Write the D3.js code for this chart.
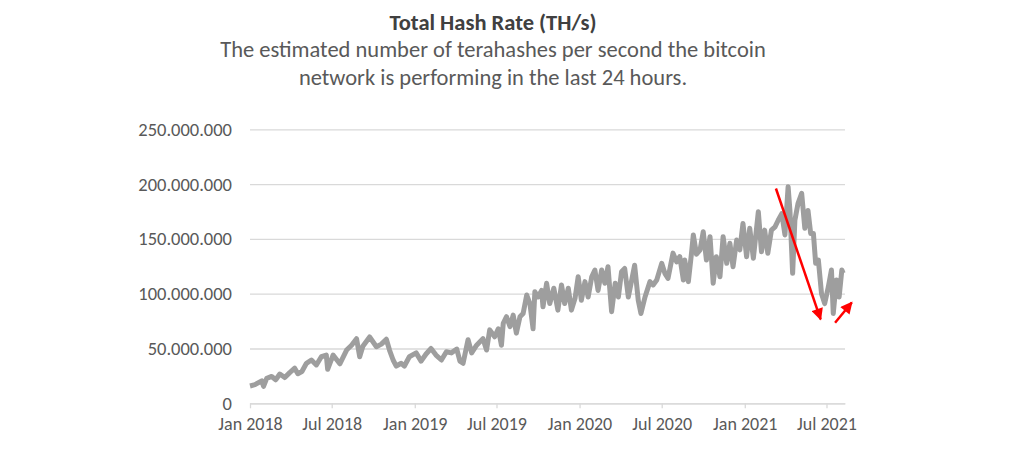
<!DOCTYPE html>
<html>
<head>
<meta charset="utf-8">
<script src="https://cdn.jsdelivr.net/npm/d3@7"></script>
<style>
  body { margin: 0; background: #fff; }
  svg { display: block; font-family: Carlito, Calibri, Lato, sans-serif; }
</style>
</head>
<body>
<div id="container"></div>
<script>
// Total hash rate, in millions of TH/s
const dates = [
    "2018-01-01", "2018-01-12", "2018-01-27", "2018-01-31", "2018-02-07", "2018-02-18", "2018-02-27",
    "2018-03-08", "2018-03-19", "2018-03-30", "2018-04-10", "2018-04-17", "2018-04-26", "2018-05-06",
    "2018-05-17", "2018-05-28", "2018-06-08", "2018-06-19", "2018-06-22", "2018-07-04", "2018-07-19",
    "2018-08-03", "2018-08-14", "2018-08-25", "2018-09-01", "2018-09-08", "2018-09-23", "2018-10-08",
    "2018-10-19", "2018-10-30", "2018-11-06", "2018-11-14", "2018-11-21", "2018-12-02", "2018-12-09",
    "2018-12-20", "2019-01-04", "2019-01-15", "2019-01-26", "2019-02-06", "2019-02-17", "2019-03-01",
    "2019-03-12", "2019-03-23", "2019-04-04", "2019-04-11", "2019-04-18", "2019-04-29", "2019-05-07",
    "2019-05-18", "2019-06-01", "2019-06-09", "2019-06-16", "2019-06-27", "2019-07-05", "2019-07-12",
    "2019-07-16", "2019-07-23", "2019-07-31", "2019-08-07", "2019-08-14", "2019-08-22", "2019-08-29",
    "2019-09-06", "2019-09-13", "2019-09-20", "2019-09-24", "2019-10-01", "2019-10-09", "2019-10-12",
    "2019-10-20", "2019-10-27", "2019-11-05", "2019-11-14", "2019-11-22", "2019-11-29", "2019-12-07",
    "2019-12-14", "2019-12-22", "2019-12-29", "2020-01-05", "2020-01-13", "2020-01-20", "2020-01-28",
    "2020-02-04", "2020-02-11", "2020-02-19", "2020-02-26", "2020-03-04", "2020-03-12", "2020-03-20",
    "2020-03-27", "2020-04-03", "2020-04-10", "2020-04-18", "2020-04-27", "2020-05-02", "2020-05-10",
    "2020-05-16", "2020-05-25", "2020-06-05", "2020-06-12", "2020-06-20", "2020-07-01", "2020-07-08",
    "2020-07-15", "2020-07-26", "2020-08-03", "2020-08-10", "2020-08-18", "2020-08-21", "2020-08-29",
    "2020-09-05", "2020-09-09", "2020-09-16", "2020-09-24", "2020-10-01", "2020-10-08", "2020-10-16",
    "2020-10-23", "2020-10-30", "2020-11-07", "2020-11-14", "2020-11-22", "2020-11-29", "2020-12-06",
    "2020-12-14", "2020-12-21", "2020-12-28", "2021-01-05", "2021-01-12", "2021-01-20", "2021-01-31",
    "2021-02-07", "2021-02-14", "2021-02-21", "2021-03-01", "2021-03-09", "2021-03-16", "2021-03-24",
    "2021-03-31", "2021-04-07", "2021-04-11", "2021-04-17", "2021-04-22", "2021-04-29", "2021-05-07",
    "2021-05-14", "2021-05-21", "2021-05-27", "2021-06-02", "2021-06-07", "2021-06-13", "2021-06-20",
    "2021-06-27", "2021-07-05", "2021-07-12", "2021-07-16", "2021-07-23", "2021-07-29", "2021-08-04",
    "2021-08-07"
];
const hashRate = [
    15.8, 17, 20.5, 15.5, 22.8, 24.5, 21.5,
    26.7, 23.5, 28, 32, 27, 29, 36.5,
    39.5, 35, 42.5, 44, 31, 44, 36,
    48.6, 53, 59, 42.5, 52, 60.5, 51.6,
    54, 58.5, 48.6, 39.5, 34, 36.5, 34,
    42.5, 46, 38.5, 45, 50, 44, 39.5,
    47, 46, 49.5, 38.5, 36.5, 58, 46,
    53, 59, 48.6, 67, 60.7, 68, 53,
    73, 79, 70, 80.5, 64, 79, 82,
    98.8, 91, 68, 101.8, 97, 103, 88,
    109.5, 91, 105, 85, 108, 91, 105,
    85, 95.8, 115.5, 94, 111, 97, 115.5,
    121.6, 103, 121.6, 109.5, 124.6, 83.6, 109.5,
    97, 120, 123, 97, 115.5, 126, 94,
    82, 97, 111, 108, 112.5, 127.7, 118.6,
    114, 137, 129, 133.8, 112.5, 130.7, 111,
    137, 153.6, 136, 140, 156.6, 130.7, 152,
    109.5, 133.8, 115.5, 152, 127.7, 146, 124.6,
    149, 140, 164, 133.8, 159.7, 132.3, 174.8,
    138.3, 158, 136.9, 158, 161, 167, 173,
    153.6, 197.6, 176, 118.6, 167, 182.5, 191.6,
    159.7, 176, 155, 155, 127.7, 130.7, 100,
    91, 106, 121.6, 82, 112.5, 97, 121.6,
    118.6
];

const xStart = "2018-01-01";
const xEnd = "2021-08-11";
const xTicks = ["2018-01-01", "2018-07-01", "2019-01-01", "2019-07-01", "2020-01-01", "2020-07-01", "2021-01-01", "2021-07-01"];
const yTicks = [0, 50, 100, 150, 200, 250];

// red annotation arrows: [date, value] at start and at the tip
const arrowStarts = [["2021-03-11", 196], ["2021-07-20", 73.5]];
const arrowEnds = [["2021-06-18", 76.6], ["2021-08-26", 92]];

const titleText = "Total Hash Rate (TH/s)";
const subtitleLines = [
    "The estimated number of terahashes per second the bitcoin",
    "network is performing in the last 24 hours."
];

const width = 1024;
const height = 469;
const fontStack = "Carlito, Calibri, Lato, sans-serif";
const parseDate = d3.timeParse("%Y-%m-%d");

const data = dates.map((d, i) => ({date: parseDate(d), value: hashRate[i]}));

const scaleX = d3.scaleTime()
    .domain([parseDate(xStart), parseDate(xEnd)])
    .range([250, 845]);
const scaleY = d3.scaleLinear()
    .domain([0, 250])
    .range([403.3, 129.3]);

// 250.000.000 style labels
const locale = d3.formatLocale({decimal: ",", thousands: ".", grouping: [3], currency: ["", ""]});
const fmt = locale.format(",d");

const svg = d3.select("#container")
    .append("svg")
    .attr("width", width)
    .attr("height", height);

svg.append("rect").attr("width", width).attr("height", height).attr("fill", "#fff");

// title
svg.append("text")
    .attr("x", 493)
    .attr("y", 29.5)
    .attr("text-anchor", "middle")
    .attr("font-size", 22.5)
    .attr("font-weight", "bold")
    .attr("fill", "#404040")
    .text(titleText);

svg.selectAll(".subtitle")
    .data(subtitleLines)
    .enter()
    .append("text")
    .attr("class", "subtitle")
    .attr("x", 493)
    .attr("y", (d, i) => 57 + i * 27.5)
    .attr("text-anchor", "middle")
    .attr("font-size", 22.5)
    .attr("fill", "#595959")
    .text(d => d);

// y gridlines + labels
const yAxis = svg.append("g")
    .attr("transform", "translate(250,0)")
    .call(d3.axisLeft(scaleY)
        .tickValues(yTicks)
        .tickSize(-(845 - 250))
        .tickPadding(18)
        .tickFormat(d => fmt(d * 1e6)));
yAxis.select(".domain").remove();
yAxis.selectAll(".tick line").attr("stroke", "#d9d9d9").attr("stroke-width", 1.3);
yAxis.selectAll(".tick text")
    .attr("fill", "#595959")
    .attr("font-size", 18.5)
    .style("font-family", fontStack);

// x axis
const xAxis = svg.append("g")
    .attr("transform", "translate(0," + scaleY(0) + ")")
    .call(d3.axisBottom(scaleX)
        .tickValues(xTicks.map(parseDate))
        .tickSize(5)
        .tickSizeOuter(0)
        .tickPadding(9)
        .tickFormat(d3.timeFormat("%b %Y")));
xAxis.select(".domain").attr("stroke", "#d9d9d9").attr("stroke-width", 1.3);
xAxis.selectAll(".tick line").attr("stroke", "#d9d9d9").attr("stroke-width", 1.3);
xAxis.selectAll(".tick text")
    .attr("fill", "#595959")
    .attr("font-size", 18)
    .style("font-family", fontStack);

// the series
const line = d3.line()
    .x(d => scaleX(d.date))
    .y(d => scaleY(d.value));

svg.append("path")
    .datum(data)
    .attr("fill", "none")
    .attr("stroke", "#9e9e9e")
    .attr("stroke-width", 5)
    .attr("stroke-linejoin", "round")
    .attr("d", line);

// arrows
svg.append("defs").append("marker")
    .attr("id", "head")
    .attr("viewBox", "0 0 10 10")
    .attr("refX", 9)
    .attr("refY", 5)
    .attr("markerUnits", "userSpaceOnUse")
    .attr("markerWidth", 13)
    .attr("markerHeight", 12)
    .attr("orient", "auto")
    .append("path")
    .attr("d", "M0,0L10,5L0,10Z")
    .attr("fill", "#ff0000");

svg.selectAll(".arrow")
    .data(arrowStarts)
    .enter()
    .append("line")
    .attr("class", "arrow")
    .attr("x1", d => scaleX(parseDate(d[0])))
    .attr("y1", d => scaleY(d[1]))
    .attr("x2", (d, i) => scaleX(parseDate(arrowEnds[i][0])))
    .attr("y2", (d, i) => scaleY(arrowEnds[i][1]))
    .attr("stroke", "#ff0000")
    .attr("stroke-width", 2.5)
    .attr("marker-end", "url(#head)");
</script>
</body>
</html>
